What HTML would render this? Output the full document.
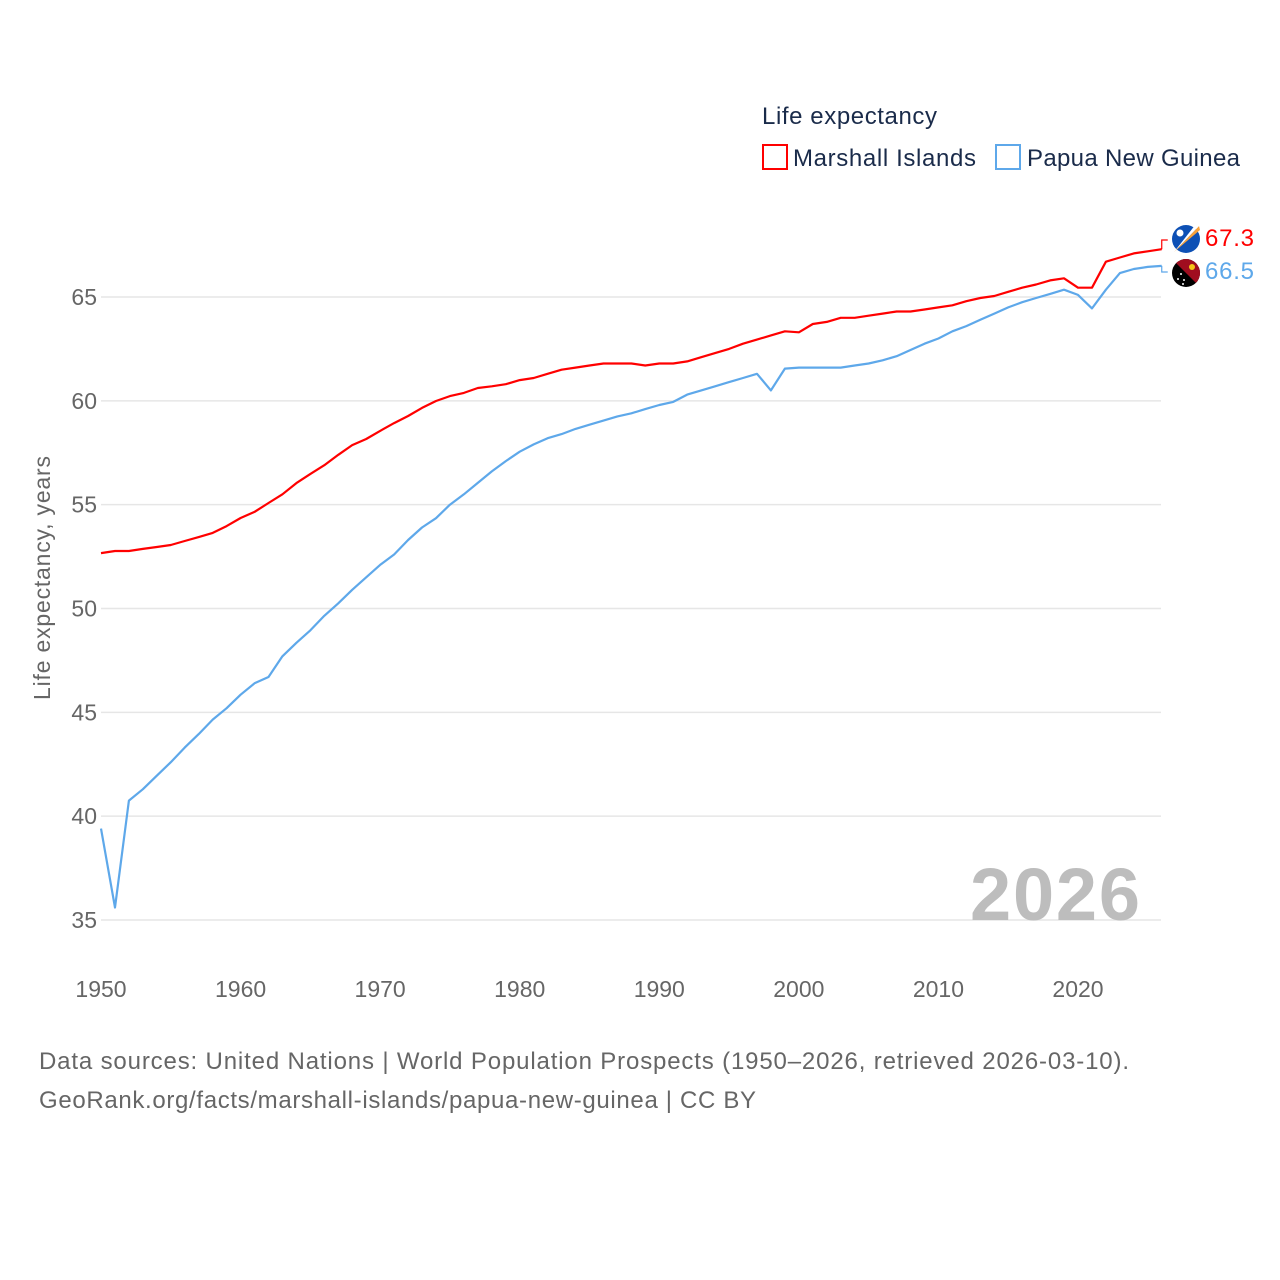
<!DOCTYPE html>
<html><head><meta charset="utf-8"><style>
html,body{margin:0;padding:0;background:#fff;}
svg{display:block;font-family:"Liberation Sans",sans-serif;}
</style></head><body>
<svg id="chart" width="1280" height="1280" viewBox="0 0 1280 1280">
<g id="grid"></g>
<g id="yticks"></g>
<g id="xticks"></g>
<text x="50" y="578" transform="rotate(-90 50 578)" text-anchor="middle" font-size="23" fill="#666" textLength="244">Life expectancy, years</text>
<text x="1140" y="920" text-anchor="end" font-size="74" font-weight="bold" fill="#bdbdbd" textLength="170">2026</text>
<g id="series"></g>
<text x="762" y="124" font-size="24" fill="#1a2b4a" textLength="175">Life expectancy</text>
<g>
<rect x="763" y="145" width="24" height="24" fill="none" stroke="#ff0000" stroke-width="2"/>
<text x="793" y="166" font-size="24" fill="#1a2b4a" textLength="183">Marshall Islands</text></g>
<g>
<rect x="996" y="145" width="24" height="24" fill="none" stroke="#5ea8ea" stroke-width="2"/>
<text x="1027" y="166" font-size="24" fill="#1a2b4a" textLength="213">Papua New Guinea</text></g>
<g>
<circle cx="1186" cy="239" r="14" fill="#0d50b5"/>
<path d="M1174 252 L1199 226 L1200 230 Z" fill="#f7a13a"/><path d="M1174 252 L1199 226 L1196 224 Z" fill="#fff"/>
<circle cx="1180" cy="233" r="3.5" fill="#fff"/></g>
<g>
<clipPath id="pc"><circle cx="1186" cy="273" r="14"/></clipPath>
<g clip-path="url(#pc)"><rect x="1172" y="259" width="28" height="28" fill="#000"/><path d="M1172 259 L1200 259 L1200 287 Z" fill="#a00d1f"/></g>
<circle cx="1192" cy="267" r="3" fill="#f5c518"/>
<circle cx="1181" cy="274" r="1" fill="#fff"/><circle cx="1184" cy="280" r="1" fill="#fff"/><circle cx="1178" cy="279" r="1" fill="#fff"/><circle cx="1183" cy="284" r="1" fill="#fff"/></g>
<text x="1205" y="246" font-size="24" fill="#ff0000" textLength="49">67.3</text>
<text x="1205" y="279" font-size="24" fill="#5ea8ea" textLength="49">66.5</text>
<text x="39" y="1069" font-size="24" fill="#666" textLength="1090">Data sources: United Nations | World Population Prospects (1950–2026, retrieved 2026-03-10).</text>
<text x="39" y="1108" font-size="24" fill="#666" textLength="717">GeoRank.org/facts/marshall-islands/papua-new-guinea | CC BY</text>
</svg>
<script>
const years = [];
for (let y = 1950; y <= 2026; y++) years.push(y);
const marshall = [52.67,52.77,52.77,52.87,52.96,53.06,53.25,53.44,53.64,53.97,54.36,54.65,55.08,55.5,56.04,56.48,56.9,57.4,57.87,58.16,58.55,58.93,59.27,59.66,59.99,60.23,60.38,60.62,60.7,60.8,61.0,61.1,61.3,61.5,61.6,61.7,61.8,61.8,61.8,61.7,61.8,61.8,61.9,62.1,62.3,62.5,62.75,62.95,63.15,63.35,63.3,63.7,63.8,64.0,64.0,64.1,64.2,64.3,64.3,64.4,64.5,64.6,64.8,64.95,65.05,65.25,65.45,65.6,65.8,65.9,65.45,65.45,66.7,66.9,67.1,67.2,67.3];
const png = [39.4,35.6,40.75,41.3,41.95,42.6,43.3,43.95,44.65,45.2,45.85,46.4,46.7,47.7,48.35,48.95,49.65,50.25,50.9,51.5,52.1,52.6,53.3,53.9,54.35,55.0,55.5,56.05,56.6,57.1,57.55,57.9,58.2,58.4,58.65,58.85,59.05,59.25,59.4,59.6,59.8,59.95,60.3,60.5,60.7,60.9,61.1,61.3,60.5,61.55,61.6,61.6,61.6,61.6,61.7,61.8,61.95,62.15,62.45,62.75,63.0,63.35,63.6,63.9,64.2,64.5,64.75,64.95,65.15,65.35,65.1,64.45,65.35,66.15,66.35,66.45,66.5];
const yTicks = [35,40,45,50,55,60,65];
const xTicks = [1950,1960,1970,1980,1990,2000,2010,2020];
const xs = yr => 101 + (yr - 1950) * (977 / 70);
const ys = v => 297 - (v - 65) * (623 / 30);
const NS = "http://www.w3.org/2000/svg";
const grid = document.getElementById('grid'), yt = document.getElementById('yticks'), xt = document.getElementById('xticks'), ser = document.getElementById('series');
yTicks.forEach(v => {
  const l = document.createElementNS(NS,'line');
  l.setAttribute('x1',101); l.setAttribute('x2',1161); l.setAttribute('y1',ys(v)); l.setAttribute('y2',ys(v));
  l.setAttribute('stroke','#e6e6e6'); l.setAttribute('stroke-width','1.5');
  
  
  grid.appendChild(l);
  const t = document.createElementNS(NS,'text');
  t.setAttribute('x',97); t.setAttribute('y',ys(v)+8); t.setAttribute('text-anchor','end');
  t.setAttribute('font-size','23'); t.setAttribute('fill','#666'); t.textContent = v;
  
  
  yt.appendChild(t);
});
xTicks.forEach(v => {
  const t = document.createElementNS(NS,'text');
  t.setAttribute('x',xs(v)); t.setAttribute('y',997); t.setAttribute('text-anchor','middle');
  t.setAttribute('font-size','23'); t.setAttribute('fill','#666'); t.textContent = v;
  
  
  xt.appendChild(t);
});
function line(vals, color, name, endY) {
  let d = vals.map((v,i) => (i ? 'L' : 'M') + xs(years[i]).toFixed(1) + ' ' + ys(v).toFixed(1)).join(' ');
  const p = document.createElementNS(NS,'path');
  p.setAttribute('d', d); p.setAttribute('fill','none'); p.setAttribute('stroke',color);
  p.setAttribute('stroke-width','2.2'); p.setAttribute('stroke-linejoin','round');
  
  
  ser.appendChild(p);
  const lx = xs(years[years.length-1]), ly = ys(vals[vals.length-1]);
  const c = document.createElementNS(NS,'path');
  c.setAttribute('d', `M${lx} ${ly} L${lx} ${endY} L${lx+6} ${endY}`);
  c.setAttribute('fill','none'); c.setAttribute('stroke',color); c.setAttribute('stroke-width','1.2');
  
  
  ser.appendChild(c);
}
line(marshall, '#ff0000', 'line-marshall-islands', 240);
line(png, '#5ea8ea', 'line-papua-new-guinea', 272);
</script>
</body></html>
